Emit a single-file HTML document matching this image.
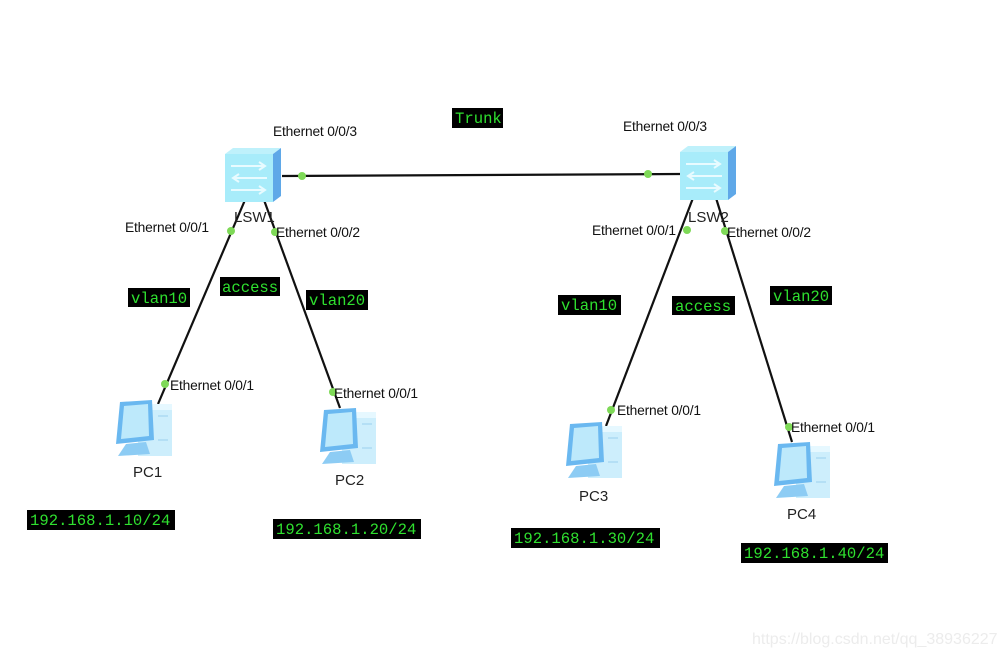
<!DOCTYPE html>
<html><head><meta charset="utf-8"><style>
html,body{margin:0;padding:0;background:#fff;}
svg{display:block;}
.e{font-family:"Liberation Sans",sans-serif;font-size:13.8px;fill:#111;letter-spacing:-0.2px;}
.n{font-family:"Liberation Sans",sans-serif;font-size:15px;fill:#222;}
.m{font-family:"Liberation Mono","DejaVu Sans Mono",monospace;font-size:15.6px;fill:#2fe02f;}
</style></head><body>
<svg width="1003" height="658" viewBox="0 0 1003 658" xmlns="http://www.w3.org/2000/svg">
<defs>
<g id="sw">
  <polygon points="0,6 8,0 56,0 48,6" fill="#bff1fb"/>
  <rect x="0" y="6" width="48" height="48" fill="#a8ecfa"/>
  <polygon points="48,6 56,0 56,48 48,54" fill="#5fa8e8"/>
  <g stroke="#e8fbff" stroke-width="2" fill="none">
    <path d="M6 18 H40 M34 14 L40 18 L34 22"/>
    <path d="M42 30 H8 M14 26 L8 30 L14 34"/>
    <path d="M6 42 H40 M34 38 L40 42 L34 46"/>
  </g>
</g>
<g id="pc">
  <rect x="26" y="4" width="34" height="52" fill="#cdeefc"/>
  <polygon points="26,4 60,4 60,10 32,10" fill="#e6f8ff"/>
  <line x1="46" y1="16" x2="56" y2="16" stroke="#9bd0ee"/>
  <line x1="46" y1="40" x2="56" y2="40" stroke="#9bd0ee"/>
  <polygon points="8,2 40,0 42,40 4,44" fill="#6ab8f0"/>
  <polygon points="12,6 36,4 37,36 9,39" fill="#bde9fb"/>
  <polygon points="14,44 34,42 38,54 6,56" fill="#8dccf4"/>
</g>
</defs>
<g stroke="#111" stroke-width="2.2">
  <line x1="282" y1="176" x2="680" y2="174"/>
  <line x1="245" y1="200" x2="158" y2="404"/>
  <line x1="264" y1="200" x2="340" y2="408"/>
  <line x1="693" y1="198" x2="606" y2="426"/>
  <line x1="716" y1="198" x2="792" y2="442"/>
</g>
<use href="#sw" x="225" y="148"/>
<use href="#sw" x="680" y="146"/>
<use href="#pc" x="112" y="400"/>
<use href="#pc" x="316" y="408"/>
<use href="#pc" x="562" y="422"/>
<use href="#pc" x="770" y="442"/>
<g fill="#7ed957">
  <circle cx="302" cy="176" r="4"/><circle cx="648" cy="174" r="4"/>
  <circle cx="231" cy="231" r="4"/><circle cx="275" cy="232" r="4"/>
  <circle cx="165" cy="384" r="4"/><circle cx="333" cy="392" r="4"/>
  <circle cx="687" cy="230" r="4"/><circle cx="725" cy="231" r="4"/>
  <circle cx="611" cy="410" r="4"/><circle cx="789" cy="427" r="4"/>
</g>
<text class="n" x="234" y="222">LSW1</text>
<text class="n" x="688" y="222">LSW2</text>
<text class="n" x="133" y="477">PC1</text>
<text class="n" x="335" y="485">PC2</text>
<text class="n" x="579" y="501">PC3</text>
<text class="n" x="787" y="519">PC4</text>
<text class="e" x="273" y="136">Ethernet 0/0/3</text>
<text class="e" x="623" y="131">Ethernet 0/0/3</text>
<text class="e" x="125" y="232">Ethernet 0/0/1</text>
<text class="e" x="276" y="237">Ethernet 0/0/2</text>
<text class="e" x="592" y="235">Ethernet 0/0/1</text>
<text class="e" x="727" y="237">Ethernet 0/0/2</text>
<text class="e" x="170" y="390">Ethernet 0/0/1</text>
<text class="e" x="334" y="398">Ethernet 0/0/1</text>
<text class="e" x="617" y="415">Ethernet 0/0/1</text>
<text class="e" x="791" y="432">Ethernet 0/0/1</text>
<g fill="#000">
  <rect x="452" y="108" width="51" height="20"/>
  <rect x="128" y="288" width="62" height="19"/>
  <rect x="220" y="277" width="60" height="19"/>
  <rect x="306" y="290" width="62" height="20"/>
  <rect x="558" y="295" width="63" height="20"/>
  <rect x="672" y="296" width="63" height="19"/>
  <rect x="770" y="286" width="62" height="19"/>
  <rect x="27" y="510" width="148" height="20"/>
  <rect x="273" y="519" width="148" height="20"/>
  <rect x="511" y="528" width="149" height="20"/>
  <rect x="741" y="543" width="147" height="20"/>
</g>
<text class="m" x="455" y="123">Trunk</text>
<text class="m" x="131" y="303">vlan10</text>
<text class="m" x="222" y="292">access</text>
<text class="m" x="309" y="305">vlan20</text>
<text class="m" x="561" y="310">vlan10</text>
<text class="m" x="675" y="311">access</text>
<text class="m" x="773" y="301">vlan20</text>
<text class="m" x="30" y="525">192.168.1.10/24</text>
<text class="m" x="276" y="534">192.168.1.20/24</text>
<text class="m" x="514" y="543">192.168.1.30/24</text>
<text class="m" x="744" y="558">192.168.1.40/24</text>
<text x="752" y="644" font-family="Liberation Sans,sans-serif" font-size="16" fill="#ececec">https://blog.csdn.net/qq_38936227</text>
</svg>
</body></html>
